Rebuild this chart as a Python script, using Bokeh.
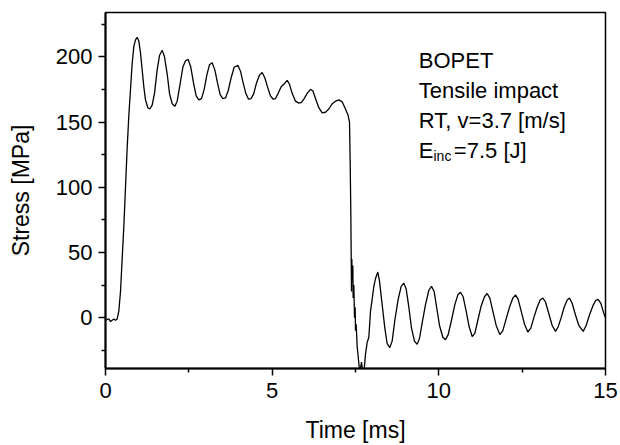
from bokeh.plotting import figure
from bokeh.models import Range1d, FixedTicker, Label
from bokeh.embed import file_html
from bokeh.resources import INLINE

# ---- data ----
time_ms = [
    0.0, 0.1, 0.15, 0.2, 0.25, 0.3, 0.35, 0.4, 0.45, 0.5, 0.55, 0.6, 0.65, 0.7, 0.75,
    0.8, 0.85, 0.9, 0.95, 1.0, 1.05, 1.1, 1.15, 1.2, 1.27, 1.33, 1.4, 1.47, 1.55, 1.62,
    1.70, 1.77, 1.85, 1.92, 2.0, 2.08, 2.15, 2.23, 2.32, 2.40, 2.48, 2.56, 2.64, 2.72,
    2.80, 2.88, 2.96, 3.04, 3.12, 3.20, 3.28, 3.36, 3.44, 3.52, 3.60, 3.68, 3.76, 3.86,
    3.97, 4.05, 4.13, 4.21, 4.29, 4.37, 4.45, 4.53, 4.62, 4.70, 4.78, 4.86, 4.95, 5.03,
    5.10, 5.18, 5.27, 5.35, 5.45, 5.52, 5.60, 5.70, 5.80, 5.88, 5.96, 6.05, 6.15, 6.22,
    6.30, 6.40, 6.50, 6.60, 6.70, 6.80, 6.90, 7.00, 7.10, 7.20, 7.28, 7.32, 7.34, 7.36,
    7.37, 7.38, 7.39, 7.40, 7.42, 7.43, 7.45, 7.47, 7.49, 7.50, 7.52, 7.55, 7.60, 7.63,
    7.68, 7.72, 7.76, 7.80, 7.85, 7.90, 7.95, 8.0, 8.05, 8.10, 8.17, 8.22, 8.30, 8.38,
    8.45, 8.53, 8.60, 8.68, 8.78, 8.87, 8.95, 9.02, 9.10, 9.18, 9.27, 9.35, 9.42, 9.50,
    9.60, 9.70, 9.78, 9.86, 9.94, 10.02, 10.12, 10.2, 10.28, 10.38, 10.48, 10.57, 10.65,
    10.73, 10.82, 10.91, 11.0, 11.08, 11.17, 11.27, 11.37, 11.45, 11.53, 11.62, 11.72,
    11.83, 11.92, 12.02, 12.12, 12.22, 12.3, 12.38, 12.47, 12.57, 12.67, 12.76, 12.85,
    12.95, 13.04, 13.12, 13.2, 13.3, 13.4, 13.5, 13.58, 13.67, 13.76, 13.85, 13.92, 14.0,
    14.1, 14.2, 14.33, 14.42, 14.52, 14.62, 14.7, 14.78, 14.86, 14.94, 15.0,
]
stress_mpa = [
    -2, -1, -3, -2, -1, -2, -1, 5, 20, 45, 70, 100, 130, 155, 175,
    195, 208, 213, 215, 212, 203, 190, 177, 167, 161, 160, 163, 172, 190, 201,
    205, 200, 187, 172, 164, 162, 166, 178, 192, 197, 198, 192, 180, 170,
    167, 168, 175, 186, 194, 195.5, 190, 180, 171, 168, 168.5, 174, 183, 192,
    193.5, 189, 180, 172, 167.5, 168, 172, 180, 186, 188, 184, 177, 170, 167.5,
    168, 172, 177, 179, 182, 179, 172, 166, 164.5, 165, 168, 172, 175, 174,
    168, 161, 157, 157.5, 160, 164, 166, 167, 165.5, 160, 155, 150, 120, 80,
    50, 20, 45, 30, 40, 15, 25, 0, 8, -10, -5, -22, -35, -42,
    -34, -42, -40, -28, -19, -15, 5, 14, 24, 30, 35, 28, 10, -8,
    -20, -23, -18, -2, 14, 24, 26.5, 22, 8, -8, -18, -20.5, -16, -4,
    10, 21, 24, 20, 7, -6, -15, -17, -13, -2, 10, 17.5, 19.5,
    16, 5, -7, -14.5, -12, -2, 9, 16, 18.5, 15, 5, -6,
    -13, -10, -1, 8, 15, 17.5, 14, 5, -5, -11, -8, 0,
    8, 13.5, 15, 12, 3, -6, -10.5, -7, 0, 8, 13.5, 15, 11,
    2, -6, -10.5, -6, 2, 9, 13, 14, 11, 4, 0,
]

x_major = [0, 5, 10, 15]
x_minor = [2.5, 7.5, 12.5]
y_major = [0, 50, 100, 150, 200]
y_minor = [-25, 25, 75, 125, 175, 225]

note_lines = ["BOPET", "Tensile impact", "RT, v=3.7 [m/s]"]
note_y = [197, 174, 151]
e_main, e_sub, e_rest = "E", "inc", "=7.5 [J]"

FONT = "Liberation Sans"

p = figure(width=620, height=445, output_backend="svg", toolbar_location=None,
           x_range=Range1d(0, 15), y_range=Range1d(-39, 234),
           min_border_left=105, min_border_right=15, min_border_top=12, min_border_bottom=76)
p.background_fill_color = "white"
p.border_fill_color = "white"
p.outline_line_color = "black"
p.outline_line_width = 1.5
p.xgrid.visible = False
p.ygrid.visible = False

p.line(time_ms, stress_mpa, line_color="black", line_width=1.3)

for ax in (p.xaxis[0], p.yaxis[0]):
    ax.axis_line_width = 2
    ax.axis_line_color = "black"
    ax.major_tick_line_width = 1.5
    ax.minor_tick_line_width = 1.5
    ax.major_tick_in = 0
    ax.minor_tick_in = 0
    ax.major_tick_out = 7
    ax.minor_tick_out = 4
    ax.major_label_text_font = FONT
    ax.major_label_text_font_size = "22px"
    ax.major_label_text_color = "black"
    ax.axis_label_text_font = FONT
    ax.axis_label_text_font_size = "23px"
    ax.axis_label_text_font_style = "normal"
    ax.axis_label_text_color = "black"

p.xaxis.ticker = FixedTicker(ticks=x_major, minor_ticks=x_minor)
p.yaxis.ticker = FixedTicker(ticks=y_major, minor_ticks=y_minor)
p.xaxis.axis_label = "Time [ms]"
p.yaxis.axis_label = "Stress [MPa]"
p.xaxis.major_label_standoff = 7
p.xaxis.axis_label_standoff = 16
p.yaxis.major_label_standoff = 6
p.yaxis.axis_label_standoff = 19

for txt, yy in zip(note_lines, note_y):
    p.add_layout(Label(x=9.4, y=yy, text=txt, text_font=FONT, text_font_size="22px",
                       text_color="black", text_baseline="alphabetic"))
p.add_layout(Label(x=9.4, y=128, text=e_main, text_font=FONT, text_font_size="22px",
                   text_color="black", text_baseline="alphabetic"))
p.add_layout(Label(x=9.84, y=124, text=e_sub, text_font=FONT, text_font_size="14px",
                   text_color="black", text_baseline="alphabetic"))
p.add_layout(Label(x=10.45, y=128, text=e_rest, text_font=FONT, text_font_size="22px",
                   text_color="black", text_baseline="alphabetic"))

open("out.html", "w").write(file_html(p, INLINE))
